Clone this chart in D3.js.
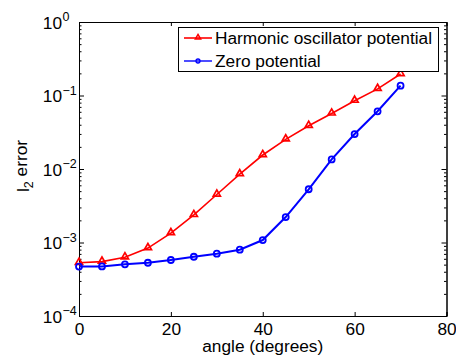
<!DOCTYPE html>
<html>
<head>
<meta charset="utf-8">
<script src="https://cdn.jsdelivr.net/npm/d3@7"></script>
<style>
  body { margin: 0; background: #fff; }
  svg { display: block; font-family: "Liberation Sans", Arial, Helvetica, sans-serif; }
</style>
</head>
<body>
<svg id="chart" width="456" height="358"></svg>
<script>
// angles in degrees, l2 error per potential
const angles = [0, 5, 10, 15, 20, 25, 30, 35, 40, 45, 50, 55, 60, 65, 70];
const harmonic = [5.3e-4, 5.5e-4, 6.3e-4, 8.4e-4, 1.34e-3, 2.37e-3, 4.5e-3, 8.5e-3,
                  1.55e-2, 2.53e-2, 3.88e-2, 5.7e-2, 8.5e-2, 0.123, 0.196];
const zeroPot = [4.7e-4, 4.72e-4, 5.05e-4, 5.3e-4, 5.78e-4, 6.4e-4, 7.05e-4, 7.98e-4,
                 1.08e-3, 2.22e-3, 5.3e-3, 1.35e-2, 2.99e-2, 6.1e-2, 0.136];
const xTicks = [0, 20, 40, 60, 80];
const yExps = [0, -1, -2, -3, -4];
const seriesNames = ["Harmonic oscillator potential", "Zero potential"];

const svg = d3.select("svg#chart");
const mLeft = 79, mRight = 446.5, mTop = 22, mBottom = 316;

let x = d3.scaleLinear().domain([0, 80]).range([mLeft, mRight]);
let y = d3.scaleLog().domain([1e-4, 1]).range([mBottom, mTop]);

// minor log ticks 2..9 per decade
let minors = [];
yExps.slice(1).forEach((e) => {
  for (let k = 2; k <= 9; k++) minors.push(k * Math.pow(10, e));
});

const fs = 17.3;

// bottom axis
let gx = svg.append("g").attr("transform", `translate(0,${mBottom})`)
  .call(d3.axisBottom(x).tickValues(xTicks).tickSize(-4).tickPadding(7).tickFormat(d3.format("d")));
gx.selectAll("text").attr("font-size", fs).attr("fill", "#000");

// top axis (ticks only)
svg.append("g").attr("transform", `translate(0,${mTop})`)
  .call(d3.axisTop(x).tickValues(xTicks).tickSize(-4).tickFormat(""));

// left axis, major
let gy = svg.append("g").attr("transform", `translate(${mLeft},0)`)
  .call(d3.axisLeft(y).tickValues(yExps.map((e) => Math.pow(10, e))).tickSize(-5).tickPadding(17).tickFormat(""));
gy.selectAll(".tick").append("text")
  .attr("x", -17).attr("dy", "0.36em").attr("font-size", fs).attr("fill", "#000")
  .attr("text-anchor", "end").text("10");
gy.selectAll(".tick").append("text")
  .attr("x", -16.5).attr("dy", "-0.12em").attr("font-size", 12.5).attr("fill", "#000")
  .attr("text-anchor", "start")
  .text((d) => { let e = Math.round(Math.log10(d)); return e < 0 ? "\u2212" + (-e) : e; });
svg.append("g").attr("transform", `translate(${mLeft},0)`)
  .call(d3.axisLeft(y).tickValues(minors).tickSize(-2.5).tickFormat(""));

// right axis
svg.append("g").attr("transform", `translate(${mRight},0)`)
  .call(d3.axisRight(y).tickValues(yExps.map((e) => Math.pow(10, e))).tickSize(-5).tickFormat(""));
svg.append("g").attr("transform", `translate(${mRight},0)`)
  .call(d3.axisRight(y).tickValues(minors).tickSize(-2.5).tickFormat(""));

svg.selectAll(".domain").attr("stroke", "#000");
svg.selectAll(".tick line").attr("stroke", "#000");

// lines
let line = d3.line().x((d) => x(d[0])).y((d) => y(d[1]));
let redData = angles.map((a, i) => [a, harmonic[i]]);
let blueData = angles.map((a, i) => [a, zeroPot[i]]);

svg.append("path").datum(redData).attr("d", line)
  .attr("fill", "none").attr("stroke", "#ff0000").attr("stroke-width", 1.6);
svg.append("path").datum(blueData).attr("d", line)
  .attr("fill", "none").attr("stroke", "#0000ff").attr("stroke-width", 2);

let tri = d3.symbol().type(d3.symbolTriangle).size(22);
svg.append("g").selectAll("path").data(redData).enter().append("path")
  .attr("d", tri).attr("transform", (d) => `translate(${x(d[0])},${y(d[1]) - 0.5})`)
  .attr("fill", "none").attr("stroke", "#ff0000").attr("stroke-width", 1.7);

svg.append("g").selectAll("circle").data(blueData).enter().append("circle")
  .attr("cx", (d) => x(d[0])).attr("cy", (d) => y(d[1])).attr("r", 3)
  .attr("fill", "none").attr("stroke", "#0000ff").attr("stroke-width", 1.8);

// legend
let lg = svg.append("g");
lg.append("rect").attr("x", 178.5).attr("y", 27.5).attr("width", 260).attr("height", 44)
  .attr("fill", "#fff").attr("stroke", "#000").attr("stroke-width", 1);
let ly = [38, 61];
let lcol = ["#ff0000", "#0000ff"];
seriesNames.forEach((name, i) => {
  lg.append("line").attr("x1", 184).attr("x2", 212).attr("y1", ly[i]).attr("y2", ly[i])
    .attr("stroke", lcol[i]).attr("stroke-width", i ? 1.4 : 1.6);
  if (i == 0) {
    lg.append("path").attr("d", d3.symbol().type(d3.symbolTriangle).size(12))
      .attr("transform", `translate(198,${ly[i] - 0.5})`).attr("fill", "none")
      .attr("stroke", lcol[i]).attr("stroke-width", 1.5);
  } else {
    lg.append("circle").attr("cx", 198).attr("cy", ly[i]).attr("r", 2)
      .attr("fill", "none").attr("stroke", lcol[i]).attr("stroke-width", 1.3);
  }
  lg.append("text").attr("x", 215).attr("y", ly[i]).attr("dy", "0.36em")
    .attr("font-size", fs).text(name);
});

// axis titles
svg.append("text").attr("x", (mLeft + mRight) / 2).attr("y", 352)
  .attr("text-anchor", "middle").attr("font-size", fs).text("angle (degrees)");

let yl = svg.append("text").attr("transform", `translate(29,${(mTop + mBottom) / 2 - 3}) rotate(-90)`)
  .attr("text-anchor", "middle").attr("font-size", fs);
yl.append("tspan").text("l");
yl.append("tspan").attr("font-size", 12.5).attr("dy", "0.35em").text("2");
yl.append("tspan").attr("dy", "-0.35em").text(" error");
</script>
</body>
</html>
